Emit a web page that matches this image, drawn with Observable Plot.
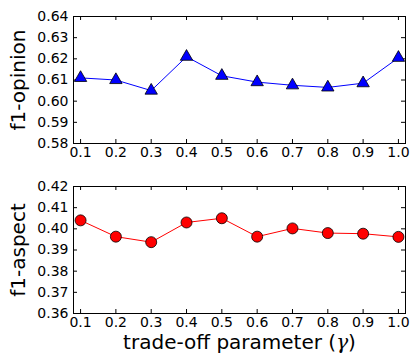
<!DOCTYPE html>
<html>
<head>
<meta charset="utf-8">
<script src="https://cdn.jsdelivr.net/npm/d3@7"></script>
<script src="https://cdn.jsdelivr.net/npm/@observablehq/plot@0.6"></script>
<style>
body { margin: 0; background: #fff; }
#wrap { position: relative; width: 411px; height: 358px; overflow: hidden; }
#wrap > svg { position: absolute; left: 0; }
</style>
</head>
<body>
<div id="wrap"></div>
<script>
const gamma = [0.1, 0.2, 0.3, 0.4, 0.5, 0.6, 0.7, 0.8, 0.9, 1.0];
const opinion = [0.611, 0.610, 0.605, 0.621, 0.612, 0.609, 0.6075, 0.6065, 0.6085, 0.6205];
const aspect = [0.404, 0.3963, 0.3937, 0.403, 0.405, 0.3963, 0.4002, 0.398, 0.3977, 0.3962];
const opinionTicks = [0.58, 0.59, 0.60, 0.61, 0.62, 0.63, 0.64];
const aspectTicks = [0.36, 0.37, 0.38, 0.39, 0.40, 0.41, 0.42];
const yLabels = ["f1-opinion", "f1-aspect"];
const xLabel = "trade-off parameter (γ)";

const W = 411, ML = 73, MR = 6, FH = 127, FW = W - ML - MR, TL = 4;
const font = "DejaVu Sans";

function panel({values, yTicks, yLabel, color, symbol, r, height, marginBottom, showXLabel}) {
  const data = gamma.map((g, i) => ({g, v: values[i]}));
  const marks = [
    Plot.frame({stroke: "black", strokeWidth: 1}),
    Plot.tickX(gamma, {x: d => d, stroke: "black", insetTop: FH - TL}),
    Plot.tickX(gamma, {x: d => d, stroke: "black", insetBottom: FH - TL}),
    Plot.tickY(yTicks, {y: d => d, stroke: "black", insetRight: FW - TL}),
    Plot.tickY(yTicks, {y: d => d, stroke: "black", insetLeft: FW - TL}),
    Plot.axisX({ticks: gamma, tickSize: 0, tickPadding: 4, tickFormat: d3.format(".1f"), label: null, fontSize: 14}),
    Plot.axisY({ticks: yTicks, tickSize: 0, tickPadding: 5, tickFormat: d3.format(".2f"), label: null, fontSize: 14}),
    Plot.line(data, {x: "g", y: "v", stroke: color, strokeWidth: 1}),
    Plot.dot(data, {x: "g", y: "v", symbol, r, fill: color, stroke: "black", strokeWidth: 0.8}),
    Plot.text([yLabel], {text: d => d, frameAnchor: "left", textAnchor: "middle", lineAnchor: "middle", dx: -55, rotate: -90, fontSize: 20, fill: "black"})
  ];
  if (showXLabel) {
    marks.push(Plot.text([xLabel], {text: d => d, frameAnchor: "bottom", textAnchor: "middle", lineAnchor: "bottom", dy: 35, fontSize: 20, fill: "black"}));
  }
  return Plot.plot({
    width: W, height,
    marginTop: 16, marginBottom, marginLeft: ML, marginRight: MR,
    style: {fontFamily: font, fontSize: "14px", color: "black", background: "white", overflow: "visible"},
    x: {domain: [0.08, 1.02]},
    y: {domain: [yTicks[0], yTicks[yTicks.length - 1]]},
    marks
  });
}

const p1 = panel({values: opinion, yTicks: opinionTicks, yLabel: yLabels[0], color: "#0000ff", symbol: "triangle", r: 4.6, height: 175, marginBottom: 32, showXLabel: false});
const p2 = panel({values: aspect, yTicks: aspectTicks, yLabel: yLabels[1], color: "#ff0000", symbol: "circle", r: 5.5, height: 188, marginBottom: 45, showXLabel: true});
p1.style.top = "0px";
p2.style.top = "170px";
const wrap = document.getElementById("wrap");
wrap.appendChild(p1);
wrap.appendChild(p2);

// italic gamma in x label
d3.select(p2).selectAll("text").each(function() {
  if (this.textContent === xLabel) {
    const t = d3.select(this);
    t.text(null);
    t.append("tspan").text("trade-off parameter (");
    t.append("tspan").attr("font-style", "italic").attr("font-family", "DejaVu Serif").text("γ");
    t.append("tspan").text(")");
  }
});
</script>
</body>
</html>
